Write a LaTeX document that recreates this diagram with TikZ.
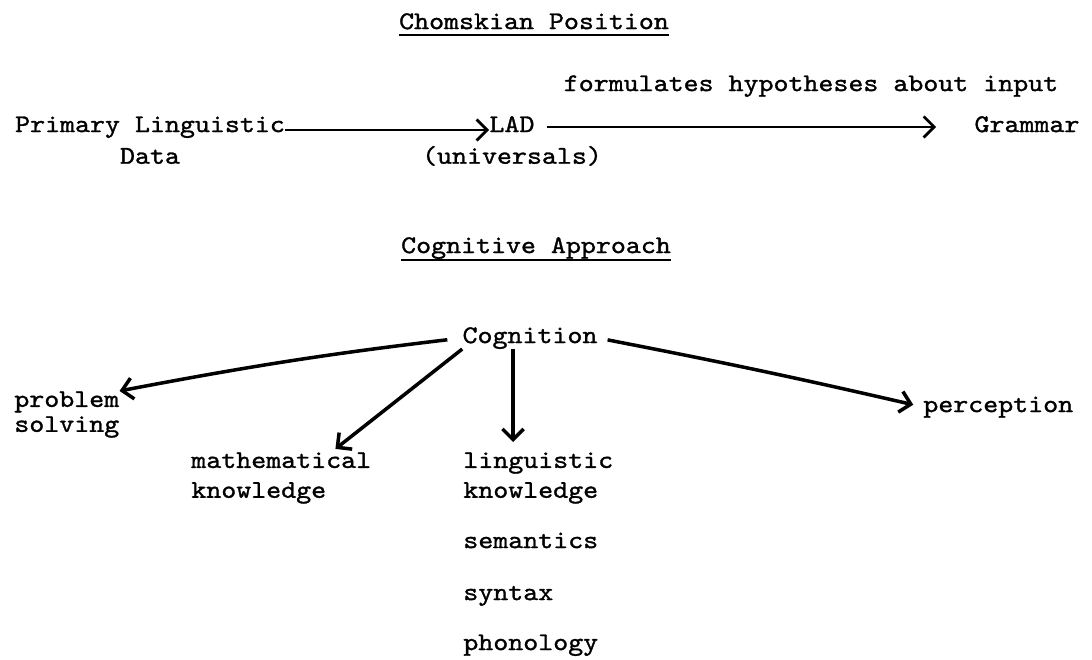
\documentclass[tikz,border=0pt]{standalone}
\usepackage{fontspec}
\newfontfamily\twfont{lmmono10-regular.otf}[FakeStretch=1.12, FakeBold=1.2]
\usepackage{tikz}
\usetikzlibrary{arrows.meta}

\begin{document}
\begin{tikzpicture}[
          txt/.style={inner sep=0pt, font=\twfont\fontsize{14.5pt}{14.2pt}\selectfont},
          one/.style={txt, text height=9pt, text depth=3.2pt},
          two/.style={txt, align=left, anchor=west},
          uline/.style={line width=1.5pt},
          arr/.style={-{Straight Barb[length=6pt, width=12pt]}, line width=1.6pt},
          carr/.style={arr, line width=2pt}
        ]
        \useasboundingbox (0,0) rectangle (21.84,13.2);

        % Chomskian position
        \node[one] (chom) at (10.68, 12.72) {Chomskian Position};
        \draw[uline] ([yshift=-0.12cm]chom.base west) -- ([yshift=-0.12cm]chom.base east);

        \node[one] (form) at (16.22, 11.48) {formulates hypotheses about input};

        \node[one, label={[one, label distance=0.19cm]below:Data}]
              (pld) at (3.0, 10.66) {Primary Linguistic};
        \node[one, label={[one, label distance=0.19cm]below:(universals)}]
              (lad) at (10.24, 10.66) {LAD};
        \node[one] (gram) at (20.54, 10.66) {Grammar};

        \draw[arr] ([yshift=-0.06cm]pld.east) -- ([yshift=-0.06cm]lad.west);
        \draw[arr, shorten <=0.25cm, shorten >=0.76cm] (lad) -- (gram);

        % Cognitive approach
        \node[one] (capp) at (10.72, 8.24) {Cognitive Approach};
        \draw[uline] ([yshift=-0.14cm]capp.base west) -- ([yshift=-0.14cm]capp.base east);

        \node[one] (cog) at (10.6, 6.44) {Cognition};

        \node[two] (prob) at (0.28, 4.91) {problem\\solving};
        \node[two] (math) at (3.82, 3.64) {mathematical\\[2.8pt]knowledge};
        \node[two] (ling) at (9.26, 3.64) {linguistic\\[2.8pt]knowledge};
        \node[one, anchor=west] (sem) at (9.26, 2.34) {semantics};
        \node[one, anchor=west] (syn) at (9.26, 1.30) {syntax};
        \node[one, anchor=west] (pho) at (9.26, 0.30) {phonology};
        \node[one, anchor=west] (perc) at (18.46, 5.06) {perception};

        \draw[carr, shorten <=0.3cm] (cog.west) to[bend right=2] (prob.north east);
        \draw[carr, shorten >=0.1cm] (cog.south west)
              -- ([xshift=-0.8cm]math.north east);
        \draw[carr, shorten >=0.2cm] ([xshift=-0.34cm]cog.south)
              -- ([xshift=-0.34cm]cog.south |- ling.north);
        \draw[carr, shorten <=0.2cm, shorten >=0.2cm] (cog.east) to[bend left=1] (perc.west);
      \end{tikzpicture}
\end{document}
